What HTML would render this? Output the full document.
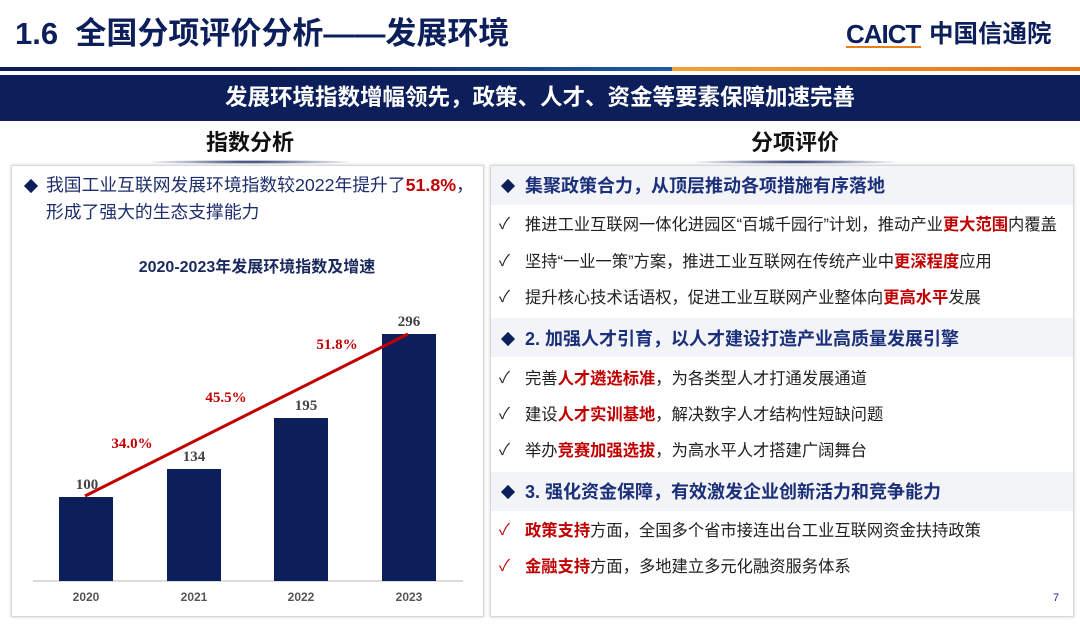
<!DOCTYPE html>
<html><head><meta charset="utf-8"><style>
*{margin:0;padding:0;box-sizing:border-box}
body{width:1080px;height:625px;background:#fff;position:relative;overflow:hidden;font-family:"Liberation Sans","Noto Sans CJK SC",sans-serif}
.a{position:absolute;white-space:nowrap}
.hd{background:#f3f4f7;position:absolute;left:491px;width:582px;height:39px}
.ht{position:absolute;left:525px;font-size:18px;font-weight:bold;color:#1b2f7a;line-height:22px;white-space:nowrap}
.dm{position:absolute;left:503px;width:10px;height:10px;background:#0c1f5b;transform:rotate(45deg)}
.it{position:absolute;left:525px;font-size:16.3px;color:#222;line-height:20px;white-space:nowrap}
.ck{position:absolute;left:499px;font-size:16px;color:#222;line-height:20px}
.r{color:#c00000;font-weight:bold}
</style></head><body>
<div class="a" style="left:15px;top:15px;font-size:31px;font-weight:bold;color:#0c1f5b;line-height:38px">1.6&nbsp; 全国分项评价分析——发展环境</div>
<div class="a" style="left:846px;top:18px;font-size:26px;font-weight:bold;color:#0c1f5b;line-height:32px;letter-spacing:-1px">CAICT</div>
<div class="a" style="left:846px;top:46px;width:75px;height:2px;background:#e8801a"></div>
<div class="a" style="left:929px;top:19px;font-size:24.5px;font-weight:bold;color:#0c1f5b;line-height:32px">中国信通院</div>
<div class="a" style="left:0;top:67px;width:672px;height:4px;background:linear-gradient(90deg,#0c1f5b,#0c1f5b 40%,#1e5aa8)"></div>
<div class="a" style="left:672px;top:67px;width:408px;height:4px;background:linear-gradient(90deg,#f2a13a,#e8700f)"></div>
<div class="a" style="left:0;top:75px;width:1080px;height:46px;background:#0c1f5b"></div>
<div class="a" style="left:0;top:75px;width:1080px;text-align:center;font-size:22.5px;font-weight:bold;color:#fff;line-height:46px">发展环境指数增幅领先，政策、人才、资金等要素保障加速完善</div>
<div class="a" style="left:150px;top:129px;width:200px;text-align:center;font-size:22px;font-weight:bold;color:#111;line-height:28px">指数分析</div>
<div class="a" style="left:695px;top:129px;width:200px;text-align:center;font-size:22px;font-weight:bold;color:#111;line-height:28px">分项评价</div>
<div class="a" style="left:150px;top:160px;width:200px;height:4px;background:radial-gradient(ellipse at center,#0c1f5b 0%,rgba(12,31,91,0.3) 50%,rgba(255,255,255,0) 75%)"></div>
<div class="a" style="left:695px;top:160px;width:200px;height:4px;background:radial-gradient(ellipse at center,#0c1f5b 0%,rgba(12,31,91,0.3) 50%,rgba(255,255,255,0) 75%)"></div>
<div class="a" style="left:11px;top:165px;width:473px;height:452px;border:1px solid #d8d8d8;box-shadow:0 0 3px #ccc"></div>
<div class="a" style="left:490px;top:165px;width:584px;height:452px;border:1px solid #d8d8d8;box-shadow:0 0 3px #ccc"></div>
<div class="a" style="left:26px;top:181px;width:10px;height:10px;background:#0c1f5b;transform:rotate(45deg)"></div>
<div class="a" style="left:46px;top:172px;font-size:17.8px;color:#1f2f6b;line-height:27px;white-space:nowrap">我国工业互联网发展环境指数较2022年提升了<span style="color:#c00000;font-weight:bold">51.8%</span>，<br>形成了强大的生态支撑能力</div>
<div class="a" style="left:57px;top:257px;width:400px;text-align:center;font-size:16px;font-weight:bold;color:#1b2a5e;line-height:22px">2020-2023年发展环境指数及增速</div>
<svg class="a" style="left:0;top:0" width="490" height="625">
<line x1="33" y1="581" x2="463" y2="581" stroke="#d0d0d0" stroke-width="1.5"/>
<rect x="59" y="497" width="54" height="84" fill="#0c1f5b"/>
<rect x="167" y="469" width="54" height="112" fill="#0c1f5b"/>
<rect x="274" y="418" width="54" height="163" fill="#0c1f5b"/>
<rect x="382" y="334" width="54" height="247" fill="#0c1f5b"/>
<g font-family="Liberation Serif,serif" font-weight="bold" font-size="15" fill="#444" text-anchor="middle">
<text x="87" y="489">100</text><text x="194" y="461">134</text><text x="306" y="410">195</text><text x="409" y="326">296</text></g>
<line x1="85" y1="496" x2="408" y2="334" stroke="#c00000" stroke-width="3"/>
<g font-family="Liberation Serif,serif" font-weight="bold" font-size="15" fill="#c00000" text-anchor="middle">
<text x="132" y="448">34.0%</text><text x="226" y="402">45.5%</text><text x="337" y="349">51.8%</text></g>
<g font-family="Liberation Sans,sans-serif" font-weight="bold" font-size="12" fill="#555" text-anchor="middle">
<text x="86" y="601">2020</text><text x="194" y="601">2021</text><text x="301" y="601">2022</text><text x="409" y="601">2023</text></g>
</svg>
<div class="hd" style="top:166px"></div>
<div class="hd" style="top:318px"></div>
<div class="hd" style="top:472px"></div>
<div class="dm" style="top:181px"></div><div class="ht" style="top:175px">集聚政策合力，从顶层推动各项措施有序落地</div>
<div class="dm" style="top:334px"></div><div class="ht" style="top:328px">2. 加强人才引育，以人才建设打造产业高质量发展引擎</div>
<div class="dm" style="top:487px"></div><div class="ht" style="top:481px">3. 强化资金保障，有效激发企业创新活力和竞争能力</div>
<div class="ck" style="top:215px">✓</div><div class="it" style="top:215px">推进工业互联网一体化进园区“百城千园行”计划，推动产业<span class="r">更大范围</span>内覆盖</div>
<div class="ck" style="top:252px">✓</div><div class="it" style="top:252px">坚持“一业一策”方案，推进工业互联网在传统产业中<span class="r">更深程度</span>应用</div>
<div class="ck" style="top:288px">✓</div><div class="it" style="top:288px">提升核心技术话语权，促进工业互联网产业整体向<span class="r">更高水平</span>发展</div>
<div class="ck" style="top:369px">✓</div><div class="it" style="top:369px">完善<span class="r">人才遴选标准</span>，为各类型人才打通发展通道</div>
<div class="ck" style="top:405px">✓</div><div class="it" style="top:405px">建设<span class="r">人才实训基地</span>，解决数字人才结构性短缺问题</div>
<div class="ck" style="top:441px">✓</div><div class="it" style="top:441px">举办<span class="r">竞赛加强选拔</span>，为高水平人才搭建广阔舞台</div>
<div class="ck" style="top:521px;color:#c00000">✓</div><div class="it" style="top:521px"><span class="r">政策支持</span>方面，全国多个省市接连出台工业互联网资金扶持政策</div>
<div class="ck" style="top:557px;color:#c00000">✓</div><div class="it" style="top:557px"><span class="r">金融支持</span>方面，多地建立多元化融资服务体系</div>
<div class="a" style="left:1053px;top:592px;font-size:11px;color:#1b2f7a">7</div>
</body></html>
